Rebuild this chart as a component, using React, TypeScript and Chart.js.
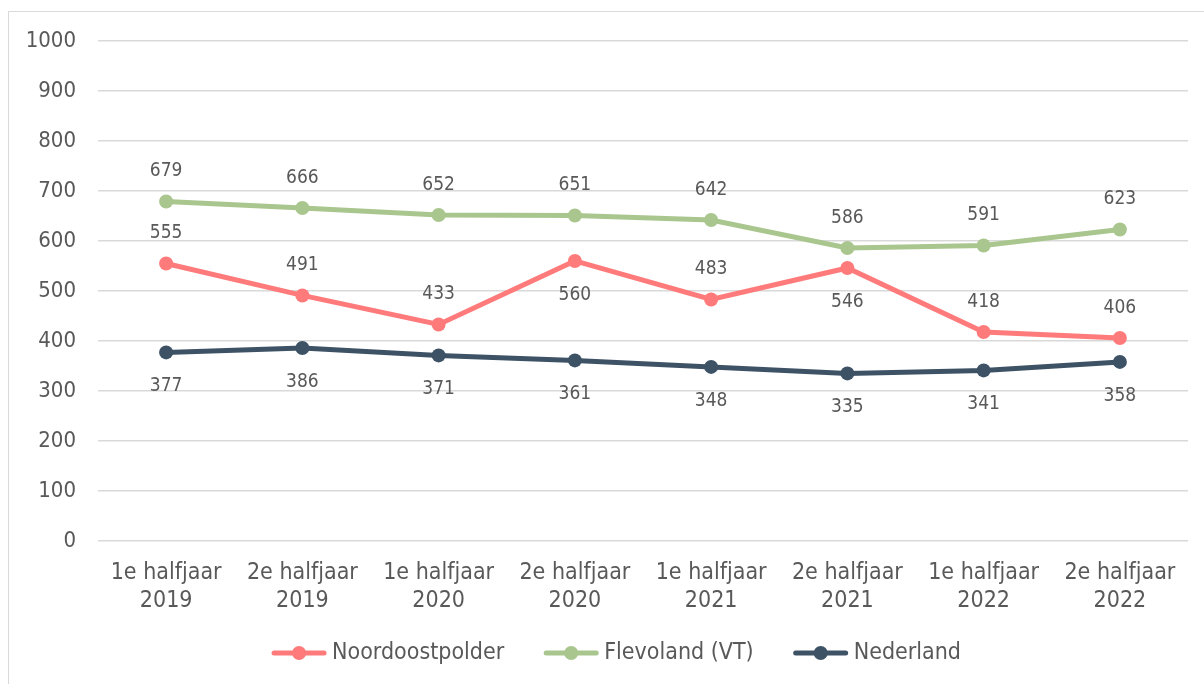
import React, { useEffect, useRef } from "react";
import { Chart, registerables } from "chart.js";

Chart.register(...registerables);

const categories: string[][] = [
  ["1e halfjaar", "2019"],
  ["2e halfjaar", "2019"],
  ["1e halfjaar", "2020"],
  ["2e halfjaar", "2020"],
  ["1e halfjaar", "2021"],
  ["2e halfjaar", "2021"],
  ["1e halfjaar", "2022"],
  ["2e halfjaar", "2022"],
];

const noordoostpolder = [555, 491, 433, 560, 483, 546, 418, 406];
const flevoland = [679, 666, 652, 651, 642, 586, 591, 623];
const nederland = [377, 386, 371, 361, 348, 335, 341, 358];

// label placement: 1 = above, -1 = below
const noordoostpolderPos = [1, 1, 1, -1, 1, -1, 1, 1];
const flevolandPos = [1, 1, 1, 1, 1, 1, 1, 1];
const nederlandPos = [-1, -1, -1, -1, -1, -1, -1, -1];

const yTicks = [0, 100, 200, 300, 400, 500, 600, 700, 800, 900, 1000];

const seriesNames = ["Noordoostpolder", "Flevoland (VT)", "Nederland"];
const seriesColors = ["#FF7B7B", "#A9C68E", "#3E5266"];

const FONT = "'DejaVu Sans Condensed', Roboto, sans-serif";
const FS_Y = 22;
const FS_X = 23;
const FS_DATA = 19;
const FS_LEGEND = 23;
const TEXT = "#595959";

const labelPlugin = {
  id: "valueLabels",
  afterDatasetsDraw(chart: any) {
    const ctx = chart.ctx;
    const positions = [noordoostpolderPos, flevolandPos, nederlandPos];
    ctx.save();
    ctx.font = `${FS_DATA}px ${FONT}`;
    ctx.fillStyle = TEXT;
    ctx.textAlign = "center";
    ctx.textBaseline = "middle";
    chart.data.datasets.forEach((ds: any, i: number) => {
      const meta = chart.getDatasetMeta(i);
      meta.data.forEach((pt: any, j: number) => {
        const dir = positions[i][j];
        ctx.fillText(String(ds.data[j]), pt.x, dir > 0 ? pt.y - 30 : pt.y + 34);
      });
    });
    ctx.restore();
  },
};

const legendPlugin = {
  id: "lineLegend",
  afterDraw(chart: any) {
    const ctx = chart.ctx;
    ctx.save();
    ctx.font = `${FS_LEGEND}px ${FONT}`;
    const iconW = 56;
    const gapText = 5;
    const gapItem = 39;
    const widths = seriesNames.map((n) => ctx.measureText(n).width);
    const total =
      widths.reduce((a, b) => a + b, 0) +
      seriesNames.length * (iconW + gapText) +
      (seriesNames.length - 1) * gapItem;
    let x = chart.width / 2 + 14 - total / 2;
    const y = chart.height - 31;
    seriesNames.forEach((name, i) => {
      const c = seriesColors[i];
      ctx.strokeStyle = c;
      ctx.lineWidth = 5;
      ctx.lineCap = "round";
      ctx.beginPath();
      ctx.moveTo(x + 3, y);
      ctx.lineTo(x + iconW - 3, y);
      ctx.stroke();
      ctx.fillStyle = c;
      ctx.beginPath();
      ctx.arc(x + iconW / 2, y, 7, 0, Math.PI * 2);
      ctx.fill();
      ctx.fillStyle = TEXT;
      ctx.textAlign = "left";
      ctx.textBaseline = "middle";
      ctx.fillText(name, x + iconW + gapText, y);
      x += iconW + gapText + widths[i] + gapItem;
    });
    ctx.restore();
  },
};

export default function App() {
  const ref = useRef<HTMLCanvasElement>(null);

  useEffect(() => {
    document.body.style.overflow = "hidden";
    const data = [noordoostpolder, flevoland, nederland];
    const chart = new Chart(ref.current!, {
      type: "line",
      data: {
        labels: categories,
        datasets: seriesNames.map((name, i) => ({
          label: name,
          data: data[i],
          borderColor: seriesColors[i],
          backgroundColor: seriesColors[i],
          borderWidth: 5,
          pointRadius: 7,
          pointHoverRadius: 7,
          pointBorderWidth: 0,
          tension: 0,
        })),
      },
      options: {
        animation: false,
        responsive: false,
        layout: { padding: { top: 41, left: 0, right: 16, bottom: 51 } },
        plugins: {
          tooltip: { enabled: false },
          legend: { display: false },
        },
        scales: {
          x: {
            offset: true,
            grid: { display: false, drawTicks: false },
            border: { display: false },
            ticks: {
              color: TEXT,
              font: { family: FONT, size: FS_X, lineHeight: 1.22 },
              padding: 18,
              maxRotation: 0,
              autoSkip: false,
            },
          },
          y: {
            min: 0,
            max: 1000,
            afterFit: (scale: any) => {
              scale.width = 98;
            },
            afterBuildTicks: (scale: any) => {
              scale.ticks = yTicks.map((v) => ({ value: v }));
            },
            grid: { color: "#d9d9d9", lineWidth: 1.5, drawTicks: false },
            border: { display: false },
            ticks: {
              color: TEXT,
              font: { family: FONT, size: FS_Y },
              padding: 22,
              callback: (v: any) => String(v),
            },
          },
        },
      },
      plugins: [labelPlugin, legendPlugin],
    });
    return () => chart.destroy();
  }, []);

  return (
    <>
      <div
        style={{
          position: "absolute",
          left: 8,
          top: 11,
          width: 1196,
          height: 673,
          borderLeft: "1.5px solid #d9d9d9",
          borderTop: "1.5px solid #d9d9d9",
          boxSizing: "border-box",
        }}
      />
      <canvas
        ref={ref}
        width={1204}
        height={684}
        style={{ position: "absolute", left: 0, top: 0, width: 1204, height: 684 }}
      />
    </>
  );
}
